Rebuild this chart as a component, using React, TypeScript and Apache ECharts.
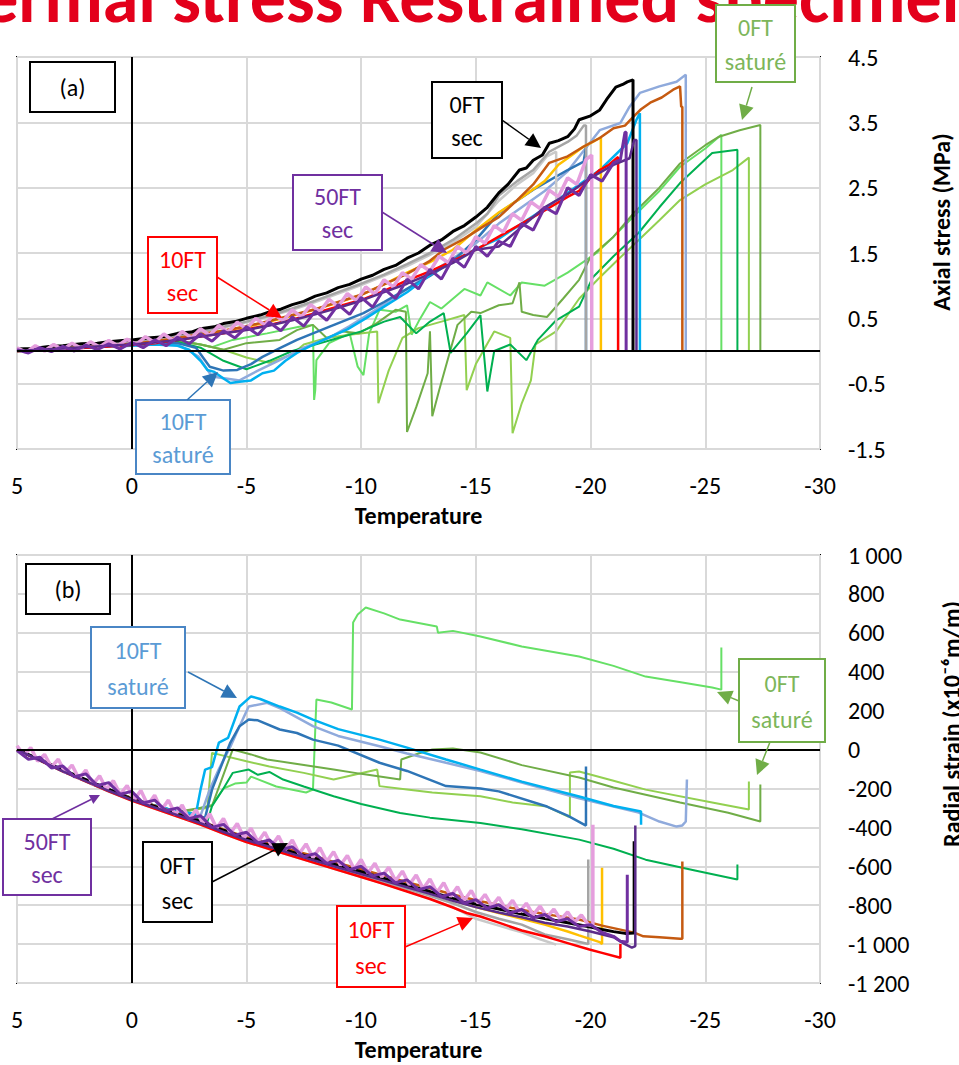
import React, { useEffect, useRef } from 'react';
import * as echarts from 'echarts';

type P = [number, number];

const FONT = 'Carlito, Lato, sans-serif';

// Axis ranges
const tempRange: P = [-30, 5];
const tempStep = 5;
const stressRange: P = [-1.5, 4.5];
const stressStep = 1;
const strainRange: P = [-1200, 1000];
const strainStep = 200;

// ---------- (a) Axial stress (MPa) vs temperature ----------
const blackA: P[] = [[5,0.03],[4.3,0.04],[3.6,0.07],[3,0.08],[2.2,0.11],[1.5,0.12],[1,0.14],[0.4,0.16],[0,0.17],[-0.7,0.2],[-1.4,0.22],[-2,0.27],[-2.6,0.29],[-3,0.34],[-3.6,0.37],[-4,0.42],[-4.5,0.45],[-5,0.5],[-5.6,0.55],[-6,0.6],[-6.5,0.64],[-7,0.71],[-7.5,0.76],[-8,0.84],[-8.5,0.89],[-9,0.97],[-9.5,1.02],[-10,1.1],[-10.5,1.16],[-11,1.25],[-11.5,1.31],[-12,1.42],[-12.5,1.5],[-13,1.62],[-13.5,1.7],[-14,1.83],[-14.5,1.92],[-15,2.05],[-15.5,2.2],[-16,2.42],[-16.4,2.55],[-16.9,2.77],[-17.2,2.8],[-17.5,2.92],[-17.9,3.0],[-18.2,3.18],[-18.6,3.22],[-19,3.28],[-19.3,3.4],[-19.5,3.54],[-20,3.6],[-20.4,3.69],[-20.7,3.85],[-21.1,4.04],[-21.4,4.08],[-21.6,4.12],[-21.85,4.15],[-21.85,0]];
const greyA: P[] = [[5,0.02],[4,0.04],[3,0.06],[2,0.09],[1,0.12],[0,0.15],[-1,0.19],[-2,0.24],[-3,0.3],[-4,0.37],[-5,0.45],[-6,0.54],[-7,0.65],[-8,0.77],[-9,0.9],[-10,1.03],[-11,1.17],[-12,1.33],[-13,1.5],[-14,1.7],[-15,1.95],[-15.5,2.1],[-16,2.38],[-16.8,2.6],[-17.5,2.77],[-18.2,3.05],[-19,3.2],[-19.4,3.3],[-19.7,3.45],[-19.8,3.45],[-19.8,0]];
const silverA: P[] = [[5,0.01],[4,0.03],[3,0.05],[2,0.08],[1,0.11],[0,0.14],[-1,0.18],[-2,0.23],[-3,0.29],[-4,0.36],[-5,0.44],[-6,0.53],[-7,0.63],[-8,0.75],[-9,0.88],[-10,1.01],[-11,1.15],[-12,1.3],[-13,1.47],[-14,1.66],[-15,1.9],[-16,2.3],[-16.8,2.55],[-17.5,2.72],[-18.1,2.98],[-18.5,3.05],[-18.5,0]];
const brownA: P[] = [[5,0],[4,0.02],[3,0.04],[2,0.06],[1,0.08],[0,0.11],[-1,0.15],[-2,0.2],[-3,0.26],[-4,0.31],[-5,0.38],[-6,0.46],[-7,0.55],[-8,0.64],[-9,0.75],[-10,0.86],[-11,1.02],[-12,1.18],[-13,1.38],[-13.6,1.55],[-14.5,1.72],[-15.3,1.9],[-16,2.05],[-16.8,2.31],[-17.5,2.55],[-18.2,2.88],[-19,2.98],[-19.7,3.13],[-20.4,3.26],[-21,3.41],[-21.5,3.45],[-21.85,3.58],[-22.2,3.7],[-22.6,3.8],[-23.1,3.88],[-23.6,4.0],[-23.9,4.05],[-23.95,3.74],[-24,3.74],[-24,0]];
const goldA: P[] = [[5,0],[3,0.04],[1,0.08],[0,0.1],[-1,0.14],[-2,0.19],[-3,0.25],[-4,0.31],[-5,0.37],[-6,0.45],[-7,0.54],[-8,0.64],[-9,0.74],[-10,0.86],[-11,1.02],[-12,1.2],[-13,1.36],[-14,1.55],[-15,1.85],[-16,2.12],[-17,2.35],[-18,2.6],[-18.6,2.85],[-19,2.95],[-19.7,3.13],[-20.1,3.2],[-20.4,3.26],[-20.45,3.26],[-20.45,0]];
const redA: P[] = [[5,0],[3,0.03],[1,0.07],[0,0.09],[-1,0.12],[-2,0.17],[-3,0.22],[-4,0.27],[-5,0.33],[-6,0.4],[-7,0.48],[-8,0.58],[-9,0.68],[-10,0.78],[-11,0.92],[-12,1.08],[-13,1.22],[-14,1.38],[-15,1.55],[-16,1.75],[-17,1.95],[-18,2.15],[-19,2.36],[-19.5,2.45],[-20,2.65],[-20.4,2.77],[-20.8,2.85],[-21.2,2.97],[-21.2,0]];
const purpleA: P[] = [[5,0.02],[4.5,-0.03],[4,0.05],[3.5,-0.01],[3,0.07],[2.5,0.0],[2,0.09],[1.5,0.02],[1,0.11],[0.5,0.03],[0,0.13],[-0.5,0.05],[-1,0.17],[-1.5,0.08],[-2,0.21],[-2.5,0.11],[-3,0.26],[-3.5,0.15],[-4,0.31],[-4.5,0.2],[-5,0.37],[-5.5,0.25],[-6,0.44],[-6.5,0.31],[-7,0.52],[-7.5,0.38],[-8,0.61],[-8.5,0.47],[-9,0.71],[-9.5,0.56],[-10,0.82],[-10.5,0.67],[-11,0.95],[-11.5,0.8],[-12,1.1],[-12.5,0.95],[-13,1.25],[-13.5,1.1],[-14,1.42],[-14.5,1.28],[-15,1.6],[-15.5,1.45],[-16,1.68],[-16.5,1.6],[-17,1.95],[-17.5,1.85],[-18,2.2],[-18.5,2.1],[-19,2.5],[-19.5,2.38],[-20,2.7],[-20.5,2.6],[-21,2.88],[-21.3,2.93],[-21.5,3.35],[-21.55,3.35],[-21.55,0]];
const darkPurpleA: P[] = [[5,0],[3,0.04],[1,0.08],[0,0.1],[-1,0.13],[-2,0.17],[-3,0.22],[-4,0.27],[-5,0.32],[-6,0.39],[-7,0.47],[-8,0.56],[-9,0.66],[-10,0.77],[-11,0.9],[-12,1.03],[-13,1.18],[-14,1.35],[-15,1.55],[-16,1.6],[-17,1.9],[-18,2.2],[-19,2.4],[-20,2.65],[-21,2.85],[-21.7,2.95],[-21.9,3.23],[-22,3.23],[-22,0]];
const pinkA: P[] = [[5,0.05],[4.6,-0.02],[4.2,0.08],[3.8,0.0],[3.4,0.1],[3,0.02],[2.6,0.12],[2.2,0.04],[1.8,0.14],[1.4,0.06],[1,0.16],[0.6,0.08],[0.2,0.18],[-0.2,0.1],[-0.6,0.22],[-1,0.13],[-1.4,0.26],[-1.8,0.16],[-2.2,0.3],[-2.6,0.2],[-3,0.34],[-3.4,0.24],[-3.8,0.39],[-4.2,0.29],[-4.6,0.44],[-5,0.34],[-5.4,0.5],[-5.8,0.4],[-6.2,0.56],[-6.6,0.46],[-7,0.63],[-7.4,0.52],[-7.8,0.71],[-8.2,0.6],[-8.6,0.79],[-9,0.68],[-9.4,0.88],[-9.8,0.77],[-10.2,0.98],[-10.6,0.87],[-11,1.09],[-11.4,0.98],[-11.8,1.2],[-12.2,1.1],[-12.6,1.32],[-13,1.22],[-13.4,1.45],[-13.8,1.35],[-14.2,1.6],[-14.6,1.5],[-15,1.75],[-15.4,1.65],[-15.8,1.92],[-16.2,1.82],[-16.6,2.1],[-17,2.0],[-17.4,2.28],[-17.8,2.18],[-18.2,2.46],[-18.6,2.36],[-19,2.65],[-19.4,2.55],[-19.8,2.93],[-20.05,3.0],[-20.05,0]];
const cyanA: P[] = [[5,0],[3,0.04],[1,0.07],[0,0.08],[-1,0.1],[-2,0.08],[-2.5,0.02],[-3,-0.15],[-3.3,-0.29],[-3.6,-0.32],[-4,-0.42],[-4.3,-0.49],[-4.7,-0.47],[-5.2,-0.45],[-5.7,-0.34],[-6.2,-0.3],[-6.7,-0.15],[-7.2,-0.03],[-7.8,0.08],[-8.6,0.21],[-9.4,0.33],[-10.2,0.5],[-11,0.68],[-12,0.9],[-13.1,1.19],[-14,1.38],[-15,1.56],[-16,1.72],[-17,1.95],[-18,2.18],[-19,2.42],[-20.4,2.77],[-21.6,3.18],[-22,3.54],[-22.15,3.64],[-22.15,0]];
const steelA: P[] = [[5,0],[3,0.04],[1,0.08],[0,0.09],[-1,0.11],[-2,0.12],[-2.8,0.05],[-3.4,-0.24],[-4,-0.3],[-4.6,-0.29],[-5.2,-0.2],[-5.7,-0.09],[-6.5,0.05],[-7.2,0.17],[-8.6,0.37],[-10.1,0.58],[-11,0.75],[-12,0.95],[-13,1.15],[-14,1.38],[-15,1.7],[-16,2.11],[-17.5,2.47],[-19,2.77],[-19.7,2.9],[-19.8,3.12],[-19.8,0]];
const lightSteelA: P[] = [[5,0],[3,0.04],[1,0.08],[0,0.09],[-1,0.1],[-2,0.1],[-2.9,-0.08],[-3.5,-0.39],[-4.1,-0.42],[-4.7,-0.45],[-5.5,-0.3],[-6.45,-0.14],[-7.5,0.05],[-8.6,0.2],[-9.5,0.38],[-10.5,0.6],[-12,0.95],[-13.5,1.3],[-15,1.65],[-16,1.95],[-17,2.2],[-18,2.45],[-19,2.75],[-20.4,3.38],[-21.3,3.49],[-21.7,3.74],[-22.15,3.95],[-23,4.05],[-23.75,4.12],[-24.15,4.23],[-24.15,0]];
const brightGreenA: P[] = [[5,0],[2,0.06],[0,0.1],[-2,0.16],[-3,0.1],[-3.5,0.06],[-4.4,0.17],[-5.9,0.27],[-7.3,0.37],[-7.9,0.4],[-7.95,-0.75],[-8.0,-0.6],[-8.05,-0.14],[-8.6,0.12],[-9.5,0.27],[-9.85,-0.24],[-10.1,-0.37],[-10.35,0.27],[-10.8,0.63],[-11.5,0.6],[-12,0.7],[-12.2,0.25],[-12.5,0.45],[-13,0.75],[-13.5,0.65],[-14,0.8],[-14.5,0.95],[-15.2,0.85],[-15.5,1.05],[-16.5,0.85],[-17,1.05],[-18,1.0],[-19,1.2],[-20.26,1.5],[-21,1.75],[-21.85,2.05],[-23,2.45],[-23.9,2.82],[-25,3.1],[-25.6,3.28],[-25.7,3.31],[-25.7,0]];
const oliveA: P[] = [[5,0],[2,0.06],[0,0.1],[-2,0.16],[-3,0.1],[-4,0.02],[-5,0.12],[-6.45,0.17],[-7.2,0.32],[-7.9,0.4],[-8.5,0.2],[-9.2,0.3],[-9.9,0.27],[-10.7,0.43],[-11.5,0.63],[-11.95,0.6],[-12.0,-1.24],[-12.4,-0.86],[-12.9,-0.34],[-13.0,0.3],[-13.1,-1.0],[-13.4,-0.6],[-13.8,-0.1],[-14.2,0.4],[-14.8,0.6],[-15.2,0.58],[-16.0,0.7],[-16.6,0.73],[-16.9,1.05],[-17.0,0.6],[-17.5,0.55],[-18.1,0.52],[-18.8,0.8],[-19.5,1.09],[-20.0,1.44],[-21,1.75],[-21.85,2.1],[-23,2.5],[-23.9,2.87],[-25,3.15],[-25.6,3.28],[-26.5,3.38],[-27.4,3.46],[-27.4,0]];
const lightOliveA: P[] = [[5,0],[2,0.06],[0,0.1],[-2,0.15],[-3,0.1],[-4,0.02],[-5,-0.1],[-6,-0.18],[-7,-0.05],[-7.5,0.1],[-8.5,0.2],[-9.5,0.25],[-10.7,0.3],[-10.75,-0.8],[-11.2,-0.3],[-11.8,0.2],[-12.5,0.35],[-13.5,0.45],[-14.5,0.55],[-14.6,-0.6],[-15,-0.2],[-15.8,0.3],[-16.5,0.2],[-16.6,-1.26],[-17.0,-0.8],[-17.4,-0.45],[-17.6,0.1],[-18.5,0.3],[-19.5,0.8],[-20.3,1.09],[-21.2,1.4],[-22.1,1.7],[-23,2.0],[-23.9,2.31],[-25,2.55],[-26.2,2.77],[-26.9,2.96],[-26.9,0]];
const greenA: P[] = [[5,0],[2,0.06],[0,0.1],[-2,0.14],[-3,0.05],[-4,-0.15],[-5,-0.28],[-6,-0.15],[-7,0.0],[-8,0.1],[-9,0.2],[-10,0.3],[-11,0.45],[-11.7,0.52],[-12.4,0.27],[-13,0.45],[-13.6,0.58],[-13.9,-0.03],[-14.6,0.27],[-15.2,0.55],[-15.5,-0.62],[-15.8,0.0],[-16.5,0.1],[-17.2,-0.14],[-17.7,0.17],[-18.5,0.47],[-19.5,0.68],[-20.1,1.13],[-21,1.45],[-22.1,1.81],[-23,2.2],[-23.9,2.57],[-25.3,3.03],[-26.4,3.08],[-26.4,0]];

// ---------- (b) Radial strain (x10^-6 m/m) vs temperature ----------
const blackB: P[] = [[5,0],[4,-52],[3,-105],[2,-155],[1,-205],[0,-255],[-1,-292],[-2,-333],[-3,-370],[-4,-415],[-5,-458],[-6,-492],[-7,-527],[-8,-560],[-9,-596],[-10,-628],[-11,-662],[-12,-697],[-13,-730],[-14,-765],[-15,-795],[-16,-820],[-17,-845],[-18,-868],[-19,-890],[-20,-912],[-20.5,-925],[-21,-936],[-21.5,-945],[-21.9,-943],[-21.9,-472]];
const greyB: P[] = [[5,0],[4,-56],[3,-112],[2,-163],[1,-214],[0,-260],[-1,-300],[-2,-342],[-3,-382],[-4,-428],[-5,-470],[-6,-505],[-7,-542],[-8,-578],[-9,-613],[-10,-645],[-11,-680],[-12,-716],[-13,-752],[-14,-790],[-15,-835],[-16,-870],[-17,-900],[-18,-950],[-19,-975],[-19.9,-1000],[-19.9,-565]];
const silverB: P[] = [[5,0],[4,-57],[3,-113],[2,-165],[1,-216],[0,-262],[-1,-303],[-2,-345],[-3,-386],[-4,-432],[-5,-475],[-6,-511],[-7,-548],[-8,-584],[-9,-620],[-10,-654],[-11,-690],[-12,-728],[-13,-766],[-14,-810],[-15,-870],[-16,-905],[-17,-940],[-17.8,-975],[-18.5,-1003]];
const redB: P[] = [[5,0],[4,-56],[3,-112],[2,-164],[1,-215],[0,-262],[-1,-303],[-2,-345],[-3,-386],[-4,-432],[-5,-475],[-6,-511],[-7,-548],[-8,-584],[-9,-620],[-10,-655],[-11,-692],[-12,-730],[-13,-768],[-14,-812],[-14.6,-840],[-15.2,-858],[-16,-890],[-17,-930],[-18,-960],[-19,-995],[-19.95,-1028],[-20.5,-1045],[-21.3,-1070],[-21.3,-1000]];
const goldB: P[] = [[5,0],[3,-110],[1,-210],[0,-255],[-1,-295],[-2,-335],[-3,-375],[-4,-420],[-5,-460],[-6,-495],[-7,-530],[-8,-565],[-9,-600],[-10,-630],[-11,-665],[-12,-702],[-13,-738],[-14,-775],[-15,-810],[-16,-840],[-17,-870],[-18,-900],[-19,-935],[-19.5,-955],[-20.4,-990],[-20.5,-1000],[-20.5,-607]];
const brownB: P[] = [[5,0],[3,-108],[1,-205],[0,-250],[-1,-288],[-2,-328],[-3,-368],[-4,-410],[-5,-450],[-6,-484],[-7,-517],[-8,-550],[-9,-584],[-10,-615],[-11,-648],[-12,-682],[-13,-713],[-14,-745],[-15,-775],[-16.6,-815],[-17.5,-835],[-18.5,-855],[-19.5,-874],[-20.5,-905],[-21.9,-941],[-22.3,-960],[-23,-965],[-23.9,-972],[-24,-972],[-24,-576]];
const purpleB: P[] = [[5,-5],[4.5,-50],[4,-40],[3.5,-95],[3,-85],[2.5,-140],[2,-125],[1.5,-185],[1,-170],[0.5,-230],[0,-215],[-0.5,-275],[-1,-260],[-1.5,-315],[-2,-300],[-2.5,-355],[-3,-340],[-3.5,-400],[-4,-385],[-4.5,-440],[-5,-425],[-5.5,-480],[-6,-465],[-6.5,-515],[-7,-500],[-7.5,-550],[-8,-535],[-8.5,-585],[-9,-570],[-9.5,-618],[-10,-600],[-10.5,-650],[-11,-635],[-11.5,-685],[-12,-670],[-12.5,-720],[-13,-705],[-13.5,-755],[-14,-740],[-14.5,-790],[-15,-772],[-15.5,-815],[-16,-798],[-16.5,-840],[-17,-822],[-17.5,-865],[-18,-848],[-18.5,-885],[-19,-870],[-19.5,-910],[-20,-900],[-20.5,-940],[-21,-960],[-21.3,-985],[-21.6,-990],[-21.6,-643]];
const darkPurpleB: P[] = [[5,0],[3,-112],[1,-212],[0,-258],[-1,-298],[-2,-338],[-3,-379],[-4,-424],[-5,-465],[-6,-500],[-7,-536],[-8,-572],[-9,-606],[-10,-640],[-11,-674],[-12,-708],[-13,-742],[-14,-777],[-15,-810],[-16,-838],[-17,-862],[-18,-890],[-19,-910],[-20,-935],[-21,-965],[-21.5,-1000],[-21.8,-1018],[-21.95,-1010],[-21.95,-391]];
const pinkB: P[] = [[5,20],[4.7,-30],[4.4,10],[4.1,-60],[3.8,-25],[3.5,-90],[3.2,-50],[2.9,-120],[2.6,-80],[2.3,-150],[2.0,-105],[1.7,-180],[1.4,-135],[1.1,-205],[0.8,-160],[0.5,-230],[0.2,-185],[-0.1,-260],[-0.4,-210],[-0.7,-285],[-1,-235],[-1.3,-310],[-1.6,-260],[-1.9,-335],[-2.2,-285],[-2.5,-360],[-2.8,-310],[-3.1,-380],[-3.4,-330],[-3.7,-405],[-4,-355],[-4.3,-430],[-4.6,-380],[-4.9,-455],[-5.2,-405],[-5.5,-475],[-5.8,-425],[-6.1,-495],[-6.4,-445],[-6.7,-515],[-7,-465],[-7.3,-535],[-7.6,-485],[-7.9,-555],[-8.2,-505],[-8.5,-575],[-8.8,-525],[-9.1,-595],[-9.4,-545],[-9.7,-615],[-10,-565],[-10.3,-635],[-10.6,-585],[-10.9,-655],[-11.2,-605],[-11.5,-675],[-11.8,-625],[-12.1,-695],[-12.4,-645],[-12.7,-715],[-13,-665],[-13.3,-735],[-13.6,-685],[-13.9,-755],[-14.2,-705],[-14.5,-775],[-14.8,-725],[-15.1,-790],[-15.4,-745],[-15.7,-805],[-16,-760],[-16.3,-820],[-16.6,-775],[-16.9,-835],[-17.2,-790],[-17.5,-850],[-17.8,-805],[-18.1,-862],[-18.4,-820],[-18.7,-875],[-19,-835],[-19.3,-888],[-19.6,-850],[-19.9,-900],[-20.1,-905],[-20.1,-386]];
const cyanB: P[] = [[5,0],[3,-108],[1,-205],[0,-250],[-1,-288],[-2,-320],[-2.8,-330],[-3.0,-206],[-3.2,-103],[-3.5,-90],[-3.8,36],[-4.2,60],[-4.7,221],[-5.2,273],[-5.6,260],[-6.45,221],[-7.2,190],[-7.9,154],[-9,105],[-10.8,51],[-12,10],[-13.7,-51],[-15.2,-103],[-17,-165],[-19.5,-241],[-21,-290],[-22.2,-318],[-22.2,-386]];
const lightSteelB: P[] = [[5,0],[3,-108],[1,-205],[0,-250],[-1,-288],[-2,-320],[-3.0,-340],[-3.4,-206],[-3.8,-100],[-4.3,15],[-4.7,120],[-5.1,221],[-5.9,240],[-6.5,210],[-7.9,120],[-9,70],[-10.8,17],[-12,-20],[-13.7,-68],[-15.2,-110],[-17,-170],[-19.5,-250],[-22.1,-324],[-23,-370],[-23.75,-396],[-24.0,-390],[-24.15,-370],[-24.2,-154]];
const steelB: P[] = [[5,0],[3,-108],[1,-205],[0,-250],[-1,-288],[-2,-320],[-3.2,-350],[-3.5,-206],[-4.3,36],[-4.7,120],[-5.1,154],[-5.5,150],[-6.45,103],[-7.2,85],[-7.9,51],[-9,20],[-10.8,-68],[-12,-110],[-13.7,-188],[-15.2,-200],[-16,-215],[-18.1,-293],[-19,-340],[-19.8,-391],[-19.8,-87]];
const brightGreenB: P[] = [[5,0],[3,-108],[1,-205],[0,-255],[-1,-295],[-2,-330],[-3.5,-285],[-4,-200],[-4.5,-175],[-5,-170],[-5.2,-139],[-6.3,-190],[-7.6,-221],[-7.9,-206],[-8.05,257],[-8.7,242],[-9.6,206],[-9.65,653],[-9.85,694],[-10.2,730],[-11,700],[-11.7,668],[-12.5,650],[-13.3,632],[-13.35,600],[-14,610],[-15.2,581],[-17,530],[-19.5,478],[-21,430],[-22.4,375],[-24,345],[-25.3,319],[-25.7,308],[-25.7,524]];
const oliveB: P[] = [[5,0],[3,-108],[1,-205],[0,-255],[-1,-295],[-2,-320],[-3.5,-290],[-4.4,0],[-5.2,-25],[-5.9,-51],[-7,-70],[-8.8,-103],[-10,-125],[-11.7,-154],[-11.75,-51],[-12.5,-20],[-13.1,0],[-14,5],[-15.2,-15],[-17,-80],[-19.5,-144],[-21,-195],[-23.9,-272],[-26,-325],[-27.4,-370],[-27.4,-180]];
const lightOliveB: P[] = [[5,0],[3,-108],[1,-205],[0,-255],[-1,-295],[-2,-320],[-3.3,-300],[-3.5,-17],[-5,-60],[-6,-87],[-7.5,-120],[-8.8,-154],[-10.7,-103],[-10.8,-188],[-12,-205],[-13.1,-221],[-15.2,-240],[-16.6,-272],[-18.1,-293],[-19.0,-344],[-19.1,-344],[-19.1,-118],[-19.5,-113],[-21,-160],[-22.4,-206],[-25.3,-272],[-26.9,-308],[-26.9,-164]];
const greenB: P[] = [[5,0],[3,-108],[1,-205],[0,-255],[-1,-295],[-2,-330],[-3.3,-370],[-3.5,-291],[-4.0,-200],[-4.4,-120],[-5.1,-103],[-5.5,-130],[-6.0,-115],[-6.6,-154],[-7.5,-190],[-8.8,-240],[-10,-280],[-11.7,-326],[-13,-350],[-15.2,-377],[-17,-410],[-19.5,-463],[-21,-510],[-22.4,-566],[-24.5,-620],[-26.4,-668],[-26.4,-591]];

// Series styling: [data (a), data (b), colour, line width]
const specimens: [P[], P[], string, number][] = [
  [brightGreenA, brightGreenB, '#66E066', 2],
  [lightOliveA, lightOliveB, '#92D050', 2],
  [oliveA, oliveB, '#70AD47', 2],
  [greenA, greenB, '#00B050', 2],
  [lightSteelA, lightSteelB, '#8FAADC', 2.5],
  [steelA, steelB, '#2E75B6', 2.5],
  [cyanA, cyanB, '#00B0F0', 2.5],
  [silverA, silverB, '#C9C9C9', 2.5],
  [greyA, greyB, '#A5A5A5', 2.5],
  [goldA, goldB, '#FFC000', 2.5],
  [brownA, brownB, '#C55A11', 2.5],
  [redA, redB, '#FF0000', 2.5],
  [blackA, blackB, '#000000', 3],
  [pinkA, pinkB, '#E59EDD', 3.5],
  [darkPurpleA, darkPurpleB, '#5B2C8A', 2.5],
  [purpleA, purpleB, '#7030A0', 3],
];

const thousands = (v: number) => {
  const s = String(Math.abs(v)).replace(/\B(?=(\d{3})+(?!\d))/g, ' ');
  return v < 0 ? '-' + s : s;
};

function box(x: number, y: number, w: number, h: number, lines: string[], stroke: string, color: string) {
  const els: any[] = [
    { type: 'rect', z: 100, shape: { x, y, width: w, height: h }, style: { fill: '#fff', stroke, lineWidth: 2 } },
  ];
  lines.forEach((t, i) => {
    const ty = lines.length === 1 ? y + h / 2 : y + h * (i === 0 ? 0.29 : 0.73);
    els.push({
      type: 'text', z: 101, x: x + w / 2, y: ty,
      style: { text: t, fill: color, fontSize: 24, fontFamily: FONT, align: 'center', verticalAlign: 'middle' },
    });
  });
  return els;
}

function arrow(x1: number, y1: number, x2: number, y2: number, color: string, head = 15) {
  const a = Math.atan2(y2 - y1, x2 - x1);
  const bx = x2 - head * Math.cos(a);
  const by = y2 - head * Math.sin(a);
  const w = head * 0.5;
  return [
    { type: 'line', z: 102, shape: { x1, y1, x2: bx, y2: by }, style: { stroke: color, lineWidth: 1.5 } },
    {
      type: 'polygon', z: 102,
      shape: { points: [[x2, y2], [bx + w * Math.sin(a), by - w * Math.cos(a)], [bx - w * Math.sin(a), by + w * Math.cos(a)]] },
      style: { fill: color },
    },
  ];
}

export default function App() {
  const ref = useRef<HTMLDivElement>(null);

  useEffect(() => {
    if (!ref.current) return;
    const chart = echarts.init(ref.current, undefined, { renderer: 'svg' });

    const gridLine = { show: true, lineStyle: { color: '#D9D9D9', width: 2 } };
    const tickLabel = { color: '#000', fontSize: 24, fontFamily: FONT };

    const xAxis = [0, 1].map((g) => ({
      type: 'value', gridIndex: g, min: tempRange[0], max: tempRange[1], interval: tempStep, inverse: true,
      axisLine: { show: false }, axisTick: { show: false }, splitLine: gridLine,
      axisLabel: { ...tickLabel, margin: 24, showMinLabel: true, showMaxLabel: true },
      name: 'Temperature', nameLocation: 'middle', nameGap: 54,
      nameTextStyle: { color: '#000', fontSize: 24, fontWeight: 'bold', fontFamily: FONT },
    }));

    const yAxis = [
      {
        type: 'value', gridIndex: 0, position: 'right', min: stressRange[0], max: stressRange[1], interval: stressStep,
        axisLine: { show: false }, axisTick: { show: false }, splitLine: gridLine,
        axisLabel: { ...tickLabel, margin: 28, formatter: (v: number) => v.toFixed(1) },
      },
      {
        type: 'value', gridIndex: 1, position: 'right', min: strainRange[0], max: strainRange[1], interval: strainStep,
        axisLine: { show: false }, axisTick: { show: false }, splitLine: gridLine,
        axisLabel: { ...tickLabel, margin: 28, formatter: thousands },
      },
    ];

    const series: any[] = [];
    [0, 1].forEach((g) => {
      series.push({
        type: 'line', xAxisIndex: g, yAxisIndex: g, data: [[0, 0]], showSymbol: false, symbol: 'none',
        lineStyle: { width: 0 }, silent: true, z: 1,
        markLine: {
          silent: true, symbol: ['none', 'none'], label: { show: false },
          lineStyle: { color: '#000', width: 2, type: 'solid' },
          data: [{ xAxis: 0 }, { yAxis: 0 }],
        },
      });
    });
    specimens.forEach(([a, b, color, width], i) => {
      [a, b].forEach((data, g) => {
        series.push({
          type: 'line', xAxisIndex: g, yAxisIndex: g, data, showSymbol: false, symbol: 'none',
          lineStyle: { color, width }, itemStyle: { color }, silent: true, z: 2 + i * 0.01,
        });
      });
    });

    const graphic: any[] = [
      {
        type: 'text', x: -92, y: -3, z: 50,
        style: { text: 'Thermal stress Restrained specimens', fill: '#E3001B', fontSize: 72, fontWeight: 'bold', fontFamily: FONT, verticalAlign: 'middle' },
      },
      {
        type: 'text', x: 941, y: 222, rotation: Math.PI / 2, z: 50,
        style: { text: 'Axial stress (MPa)', fill: '#000', fontSize: 24, fontWeight: 'bold', fontFamily: FONT, align: 'center', verticalAlign: 'middle' },
      },
      {
        type: 'text', x: 951, y: 724, rotation: Math.PI / 2, z: 50,
        style: { text: 'Radial strain (x10⁻⁶m/m)', fill: '#000', fontSize: 24, fontWeight: 'bold', fontFamily: FONT, align: 'center', verticalAlign: 'middle' },
      },
      // panel (a) callouts
      ...box(30, 62, 85, 50, ['(a)'], '#000', '#000'),
      ...box(432, 82, 70, 76, ['0FT', 'sec'], '#000', '#000'),
      ...arrow(502, 120, 541, 148, '#000'),
      ...box(293, 175, 89, 75, ['50FT', 'sec'], '#7030A0', '#7030A0'),
      ...arrow(382, 212, 447, 253, '#7030A0'),
      ...box(148, 237, 69, 76, ['10FT', 'sec'], '#FF0000', '#FF0000'),
      ...arrow(217, 277, 282, 318, '#FF0000'),
      ...box(136, 400, 94, 74, ['10FT', 'saturé'], '#4A86C5', '#5B9BD5'),
      ...arrow(187, 400, 218, 372, '#2E75B6'),
      ...box(716, 5, 79, 77, ['0FT', 'saturé'], '#70AD47', '#7DB65A'),
      ...arrow(752, 87, 742, 120, '#70AD47'),
      // panel (b) callouts
      ...box(26, 564, 84, 50, ['(b)'], '#000', '#000'),
      ...box(91, 627, 94, 81, ['10FT', 'saturé'], '#4A86C5', '#5B9BD5'),
      ...arrow(188, 672, 237, 698, '#2E75B6'),
      ...box(3, 819, 88, 76, ['50FT', 'sec'], '#7030A0', '#7030A0'),
      ...arrow(52, 819, 100, 795, '#7030A0', 10),
      ...box(143, 842, 69, 80, ['0FT', 'sec'], '#000', '#000'),
      ...arrow(212, 882, 288, 843, '#000'),
      ...box(337, 906, 68, 81, ['10FT', 'sec'], '#FF0000', '#FF0000'),
      ...arrow(405, 947, 473, 918, '#FF0000'),
      ...box(739, 659, 86, 83, ['0FT', 'saturé'], '#70AD47', '#7DB65A'),
      ...arrow(739, 701, 717, 692, '#70AD47'),
      ...arrow(770, 742, 757, 775, '#70AD47'),
    ];

    chart.setOption({
      animation: false,
      backgroundColor: '#fff',
      grid: [
        { left: 17, top: 57, width: 803, height: 392, show: true, borderColor: '#000', borderWidth: 2, backgroundColor: 'transparent' },
        { left: 17, top: 555, width: 803, height: 428, show: true, borderColor: '#000', borderWidth: 2, backgroundColor: 'transparent' },
      ],
      xAxis,
      yAxis,
      series,
      graphic,
    });

    return () => chart.dispose();
  }, []);

  return <div ref={ref} style={{ position: 'absolute', left: 0, top: 0, width: 959, height: 1065 }} />;
}
